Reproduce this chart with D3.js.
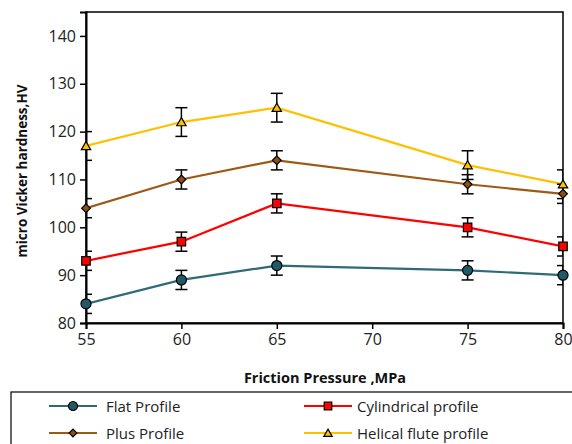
<!DOCTYPE html>
<html><head><meta charset="utf-8">
<script src="https://cdn.jsdelivr.net/npm/d3@7"></script>
<style>body{margin:0;background:#fff;} svg{display:block;font-family:"Open Sans",sans-serif;}</style>
</head><body><svg id="c" width="572" height="444"></svg>
<script>
const pressures = [55, 60, 65, 75, 80];
const xTicks = [55, 60, 65, 70, 75, 80];
const yTicks = [80, 90, 100, 110, 120, 130, 140];
const seriesNames = ["Flat Profile", "Cylindrical profile", "Plus Profile", "Helical flute profile"];
const flatValues = [84, 89, 92, 91, 90];
const flatErrors = [2, 2, 2, 2, 2];
const cylValues = [93, 97, 105, 100, 96];
const cylErrors = [2, 2, 2, 2, 2];
const plusValues = [104, 110, 114, 109, 107];
const plusErrors = [2, 2, 2, 2, 2];
const helValues = [117, 122, 125, 113, 109];
const helErrors = [3, 3, 3, 3, 3];

const series = [
  {name: seriesNames[0], values: flatValues, errors: flatErrors, line: "#2F6A78", fill: "#215A66", sym: d3.symbolCircle, size: 80, rot: 0, dy: 0},
  {name: seriesNames[1], values: cylValues, errors: cylErrors, line: "#FF0000", fill: "#FF0000", sym: d3.symbolSquare, size: 72, rot: 0, dy: 0},
  {name: seriesNames[2], values: plusValues, errors: plusErrors, line: "#9C5A14", fill: "#8E4F0E", sym: d3.symbolSquare, size: 38, rot: 45, dy: 0},
  {name: seriesNames[3], values: helValues, errors: helErrors, line: "#FFC000", fill: "#FFC000", sym: d3.symbolTriangle, size: 38, rot: 0, dy: 1}
];

const svg = d3.select("#c");
const L = 86, R = 563, T = 12, B = 323;
const x = d3.scaleLinear().domain([55, 80]).range([L, R]);
const y = d3.scaleLinear().domain([80, 145]).range([B, T]);

svg.append("defs").append("clipPath").attr("id", "clip")
  .append("rect").attr("x", L).attr("y", T).attr("width", R - L).attr("height", B - T);

svg.append("rect").attr("x", L).attr("y", T).attr("width", R - L).attr("height", B - T)
  .attr("fill", "none").attr("stroke", "#000").attr("stroke-width", 1.5);

const yAxis = svg.append("g").attr("transform", `translate(${L},0)`)
  .call(d3.axisLeft(y).tickValues(yTicks).tickSize(6).tickPadding(4));
yAxis.select(".domain").attr("stroke-width", 2);
yAxis.selectAll(".tick line").attr("stroke-width", 1.5);
yAxis.selectAll("text").attr("font-size", 16).attr("fill", "#222").attr("font-family", "Open Sans");

const xAxis = svg.append("g").attr("transform", `translate(0,${B})`)
  .call(d3.axisBottom(x).tickValues(xTicks).tickSize(6).tickPadding(5));
xAxis.select(".domain").attr("stroke-width", 2);
xAxis.selectAll(".tick line").attr("stroke-width", 1.5);
xAxis.selectAll("text").attr("font-size", 16).attr("fill", "#222").attr("font-family", "Open Sans");

svg.append("text").attr("x", 325).attr("y", 383).attr("text-anchor", "middle")
  .attr("font-size", 14.5).attr("font-weight", "bold").attr("fill", "#111").text("Friction Pressure ,MPa");
svg.append("text").attr("transform", `translate(27,171) rotate(-90)`)
  .attr("text-anchor", "middle").attr("font-size", 13.5).attr("font-weight", "bold").attr("fill", "#111")
  .text("micro Vicker hardness,HV");

const plot = svg.append("g").attr("clip-path", "url(#clip)");
const line = d3.line().x((d, i) => x(pressures[i])).y(d => y(d));

series.forEach(s => {
  plot.append("path").attr("d", line(s.values)).attr("fill", "none")
    .attr("stroke", s.line).attr("stroke-width", 2.2);
});
series.forEach(s => {
  const g = plot.append("g");
  s.values.forEach((v, i) => {
    const cx = x(pressures[i]);
    const e = s.errors[i];
    g.append("line").attr("x1", cx).attr("x2", cx).attr("y1", y(v - e)).attr("y2", y(v + e))
      .attr("stroke", "#000").attr("stroke-width", 1.5);
    [v - e, v + e].forEach(val => g.append("line").attr("x1", cx - 6).attr("x2", cx + 6)
      .attr("y1", y(val)).attr("y2", y(val)).attr("stroke", "#000").attr("stroke-width", 1.5));
  });
});
series.forEach(s => {
  const sym = d3.symbol().type(s.sym).size(s.size);
  s.values.forEach((v, i) => {
    svg.append("path").attr("d", sym())
      .attr("transform", `translate(${x(pressures[i])},${y(v) + s.dy}) rotate(${s.rot})`)
      .attr("fill", s.fill).attr("stroke", "#000").attr("stroke-width", 1.2);
  });
});

svg.append("rect").attr("x", 11).attr("y", 392).attr("width", 570).attr("height", 60)
  .attr("fill", "#fff").attr("stroke", "#000").attr("stroke-width", 1.2);
const legPos = [[49, 406], [304, 406], [49, 433], [304, 433]];
series.forEach((s, i) => {
  const [lx, ly] = legPos[i];
  svg.append("line").attr("x1", lx).attr("x2", lx + 48).attr("y1", ly).attr("y2", ly)
    .attr("stroke", s.line).attr("stroke-width", 2.2);
  svg.append("path").attr("d", d3.symbol().type(s.sym).size(s.size * 0.8)())
    .attr("transform", `translate(${lx + 24},${ly + s.dy}) rotate(${s.rot})`)
    .attr("fill", s.fill).attr("stroke", "#000").attr("stroke-width", 1.2);
  svg.append("text").attr("x", lx + (i % 2 === 0 ? 57 : 53)).attr("y", ly + 5.5)
    .attr("font-size", 15).attr("fill", "#222").text(s.name);
});
</script></body></html>
